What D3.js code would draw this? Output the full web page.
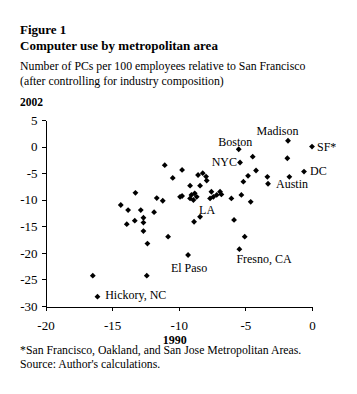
<!DOCTYPE html>
<html>
<head>
<meta charset="utf-8">
<script src="https://cdn.jsdelivr.net/npm/d3@7"></script>
<style>
  html, body { margin: 0; padding: 0; background: #fff; }
  svg { display: block; }
  text { font-family: "Liberation Serif", "Times New Roman", serif; fill: #000; }
</style>
</head>
<body>
<svg id="chart" width="357" height="394"></svg>
<script>
// ---- Data ----
// x: 1990 value, y: 2002 value (PCs per 100 employees relative to San Francisco)
const x1990 = [
  0, -1.8, -5.5, -5.4, -4.45, -1.85, -0.6, -1.7, -3.3, -3.35,
  -4.2, -4.8, -5.15, -11.05, -9.75, -10.45, -8.55, -8.2, -7.95, -7.9,
  -9.15, -8.4, -13.25, -11.65, -11.2, -9.9, -9.75, -9.15, -9.05, -8.8,
  -8.65, -8.9, -7.55, -7.4, -7.15, -6.9, -6.8, -7.65, -6.05, -5.3,
  -4.6, -14.35, -13.8, -12.85, -11.85, -12.65, -13.3, -13.9, -12.65, -12.65,
  -12.35, -10.8, -9.3, -8.85, -8.4, -5.85, -5.05, -5.45, -16.45, -12.4,
  -16.1
];
const y2002 = [
  0, 1.1, -0.5, -3.0, -1.9, -2.2, -4.7, -5.7, -7.0, -5.7,
  -4.5, -5.5, -6.6, -3.5, -4.4, -5.9, -5.35, -5.0, -5.65, -6.4,
  -7.35, -7.35, -8.7, -9.7, -10.2, -9.45, -9.3, -9.75, -9.1, -8.8,
  -9.45, -10.05, -8.5, -9.45, -9.1, -8.5, -9.0, -9.75, -9.75, -9.1,
  -10.4, -11.0, -11.95, -11.95, -12.35, -13.4, -13.95, -14.6, -14.3, -15.9,
  -18.25, -16.95, -20.4, -14.15, -13.2, -13.8, -16.95, -19.3, -24.3, -24.3,
  -28.25
];
const labelNames   = ["SF*", "Madison", "Boston", "NYC", "DC", "Austin", "LA", "El Paso", "Fresno, CA", "Hickory, NC"];
const labelIndex   = [0, 1, 2, 3, 6, 8, 54, 52, 57, 60];
const xTicks = [-20, -15, -10, -5, 0];
const yTicks = [5, 0, -5, -10, -15, -20, -25, -30];
const titleLines = ["Figure 1", "Computer use by metropolitan area"];
const subtitleLines = ["Number of PCs per 100 employees relative to San Francisco", "(after controlling for industry composition)"];
const yAxisTitle = "2002";
const xAxisTitle = "1990";
const footnotes = ["*San Francisco, Oakland, and San Jose Metropolitan Areas.", "Source: Author's calculations."];

// ---- Drawing ----
const svg = d3.select("#chart");
svg.append("rect").attr("width", 357).attr("height", 394).attr("fill", "#fff");

const x = d3.scaleLinear().domain([-20, 0]).range([45.5, 312]);
const y = d3.scaleLinear().domain([-30, 5]).range([306, 120]);

// Titles
svg.append("text").attr("x", 20).attr("y", 34).attr("font-size", 13).attr("font-weight", "bold").text(titleLines[0]);
svg.append("text").attr("x", 20).attr("y", 50).attr("font-size", 13).attr("font-weight", "bold").text(titleLines[1]);
svg.append("text").attr("x", 20).attr("y", 69.5).attr("font-size", 11.8).text(subtitleLines[0]);
svg.append("text").attr("x", 20).attr("y", 85).attr("font-size", 11.8).text(subtitleLines[1]);
svg.append("text").attr("x", 20).attr("y", 106).attr("font-size", 11.5).attr("font-weight", "bold").text(yAxisTitle);

// Axes
const yAxis = d3.axisLeft(y).tickValues(yTicks).tickFormat(d3.format("d")).tickSize(4).tickSizeOuter(0).tickPadding(4);
const xAxis = d3.axisBottom(x).tickValues(xTicks).tickFormat(d3.format("d")).tickSize(4).tickSizeOuter(0).tickPadding(10.5);

const gy = svg.append("g").attr("transform", "translate(45.5,0)").call(yAxis);
const gx = svg.append("g").attr("transform", "translate(0,306.5)").call(xAxis);
[gy, gx].forEach(g => {
  g.selectAll("path, line").attr("stroke", "#000").attr("stroke-width", 1).attr("shape-rendering", "crispEdges");
  g.selectAll("text").attr("font-family", "Liberation Serif, Times New Roman, serif").attr("font-size", 13).attr("fill", "#000");
});
gx.selectAll("text").attr("dy", "0.71em");
gx.selectAll("text").text(d => d3.format("d")(d).replace("−", "-"));
gy.selectAll("text").text(d => d3.format("d")(d).replace("−", "-"));

svg.append("text").attr("x", x(-10) - 4).attr("y", 344).attr("text-anchor", "middle")
  .attr("font-size", 12).attr("font-weight", "bold").text(xAxisTitle);

// Points
const pts = x1990.map((v, i) => ({ x: v, y: y2002[i] }));
const sym = d3.symbol().type(d3.symbolSquare).size(17);
svg.append("g").selectAll("path").data(pts).join("path")
  .attr("d", sym)
  .attr("fill", "#000")
  .attr("transform", d => `translate(${x(d.x)},${y(d.y)}) rotate(45)`);

// Point labels (offsets in px relative to the point)
const labelStyle = {
  "SF*":         { dx: 5,     dy: 4,    anchor: "start" },
  "Madison":     { dx: -10.5, dy: -5.5, anchor: "middle" },
  "Boston":      { dx: -3.5,  dy: -3.5, anchor: "middle" },
  "NYC":         { dx: -3,    dy: 3,    anchor: "end" },
  "DC":          { dx: 6,     dy: 3,    anchor: "start" },
  "Austin":      { dx: 8,     dy: 4.3,  anchor: "start" },
  "LA":          { dx: -1,    dy: -2.4, anchor: "start" },
  "El Paso":     { dx: 1,     dy: 16.7, anchor: "middle" },
  "Fresno, CA":  { dx: -3,    dy: 13.4, anchor: "start" },
  "Hickory, NC": { dx: 7.7,   dy: 2.6,  anchor: "start" }
};
svg.append("g").selectAll("text").data(labelNames).join("text")
  .attr("x", (d, i) => x(x1990[labelIndex[i]]) + labelStyle[d].dx)
  .attr("y", (d, i) => y(y2002[labelIndex[i]]) + labelStyle[d].dy)
  .attr("text-anchor", d => labelStyle[d].anchor)
  .attr("font-size", 12)
  .text(d => d);

// Footnotes
svg.append("text").attr("x", 20).attr("y", 353.5).attr("font-size", 11.75).text(footnotes[0]);
svg.append("text").attr("x", 20).attr("y", 368).attr("font-size", 11.75).text(footnotes[1]);
</script>
</body>
</html>
